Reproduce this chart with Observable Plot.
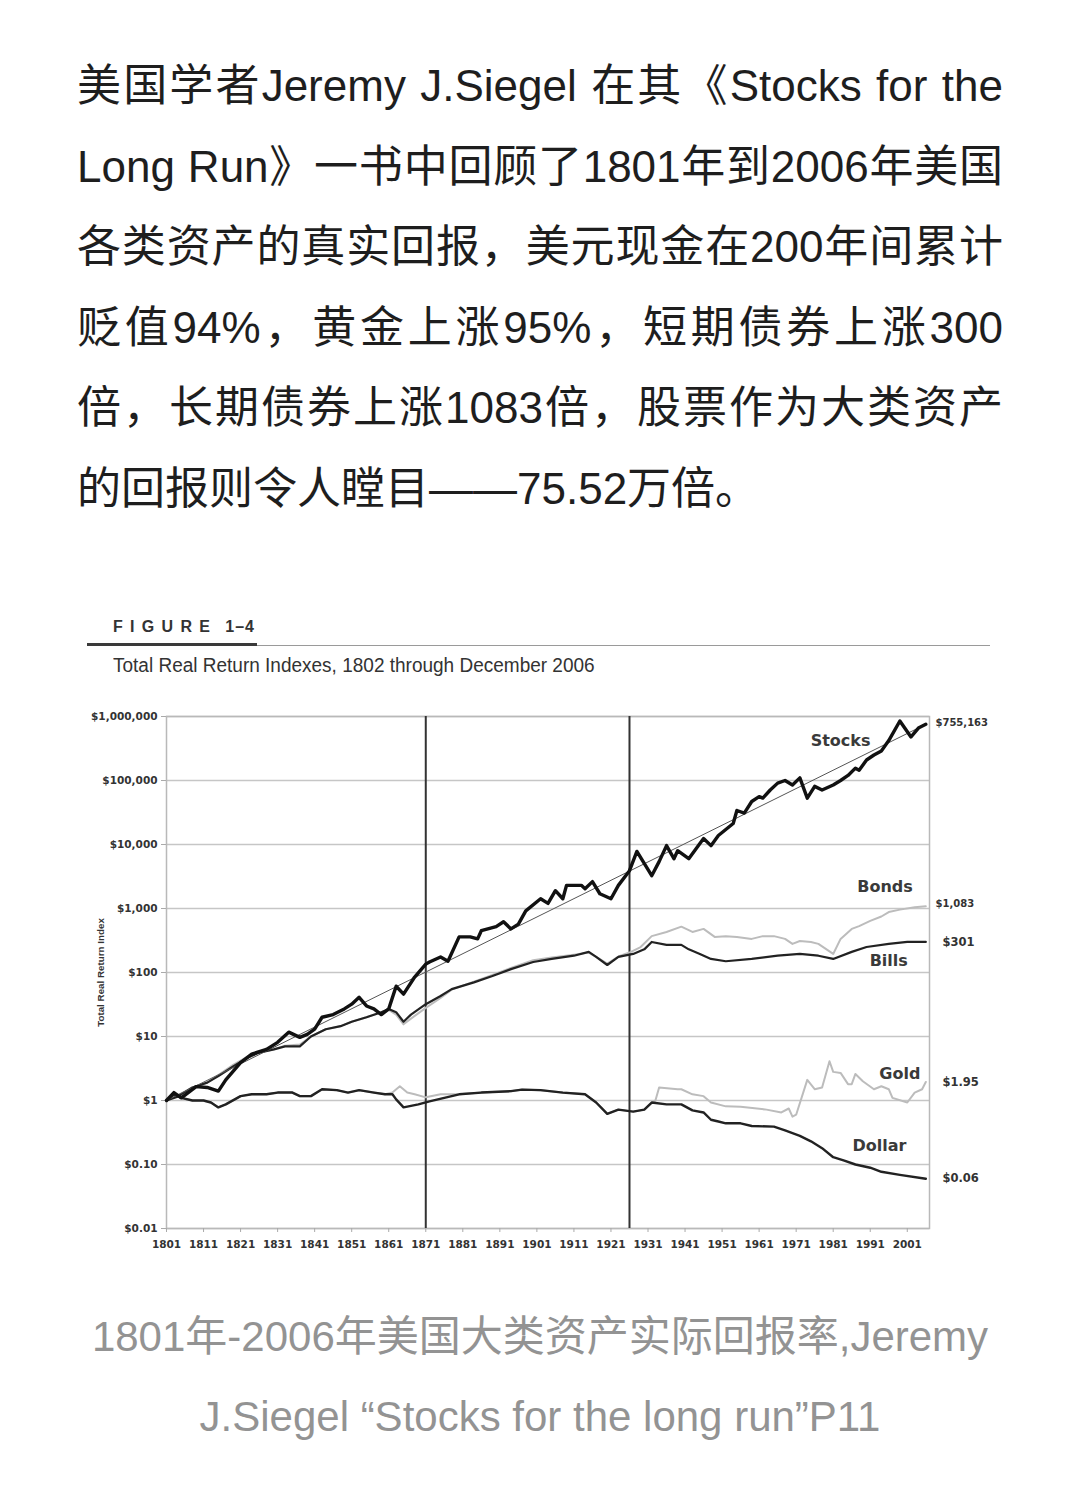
<!DOCTYPE html>
<html>
<head>
<meta charset="utf-8">
<script src="https://cdn.jsdelivr.net/npm/d3@7"></script>
<script src="https://cdn.jsdelivr.net/npm/@observablehq/plot@0.6"></script>
<style>
  html, body { margin: 0; padding: 0; background: #fff; }
  body { width: 1080px; height: 1498px; position: relative; overflow: hidden; }
  #para { position: absolute; left: 77px; top: 46px; width: 926px; font-family: "Liberation Sans", "Noto Sans CJK SC", sans-serif; font-size: 44px; line-height: 80.5px; color: #1e1e1e; }
  #para .jl { text-align: justify; text-align-last: justify; }
  #para .last { text-align: left; }
  #fig { position: absolute; left: 113px; top: 617px; font-family: "Liberation Sans", Arial, sans-serif; font-weight: bold; font-size: 16px; line-height: 20px; color: #333; white-space: nowrap; }
  #fig .w { letter-spacing: 7.3px; }
  #fig .n { letter-spacing: 1px; margin-left: 8px; }
  #thick { position: absolute; left: 87px; top: 643px; width: 170px; height: 2.5px; background: #3a3a3a; }
  #thin { position: absolute; left: 257px; top: 644.5px; width: 733px; height: 1px; background: #9a9a9a; }
  #sub { position: absolute; left: 113px; top: 652px; font-family: "Liberation Sans", Arial, sans-serif; font-size: 20px; line-height: 26px; color: #333; white-space: nowrap; transform-origin: 0 50%; transform: scaleX(0.95); }
  #chart { position: absolute; left: 0; top: 690px; }
  #cap { position: absolute; left: 0; top: 1297px; width: 1080px; text-align: center; font-family: "Liberation Sans", "Noto Sans CJK SC", sans-serif; font-size: 42px; line-height: 80px; color: #939393; }
</style>
</head>
<body>
<div id="para">
  <div class="jl">美国学者Jeremy J.Siegel 在其《Stocks for the</div>
  <div class="jl">Long Run》一书中回顾了1801年到2006年美国</div>
  <div class="jl">各类资产的真实回报，美元现金在200年间累计</div>
  <div class="jl">贬值94%，黄金上涨95%，短期债券上涨300</div>
  <div class="jl">倍，长期债券上涨1083倍，股票作为大类资产</div>
  <div class="last">的回报则令人瞠目——75.52万倍。</div>
</div>
<div id="fig"><span class="w">FIGURE</span><span class="n">1–4</span></div>
<div id="thick"></div>
<div id="thin"></div>
<div id="sub">Total Real Return Indexes, 1802 through December 2006</div>
<div id="chart"></div>
<div id="cap">
  <div>1801年-2006年美国大类资产实际回报率,Jeremy</div>
  <div>J.Siegel “Stocks for the long run”P11</div>
</div>
<script>
// ---- data ----
const xTicks = [1801, 1811, 1821, 1831, 1841, 1851, 1861, 1871, 1881, 1891, 1901, 1911, 1921, 1931, 1941, 1951, 1961, 1971, 1981, 1991, 2001];
const yTicks = [0.01, 0.1, 1, 10, 100, 1000, 10000, 100000, 1000000];
const yTickLabels = ["$0.01", "$0.10", "$1", "$10", "$100", "$1,000", "$10,000", "$100,000", "$1,000,000"];
const periodBreaks = [1871, 1926];

const stockYears = [1801,1803,1805,1809,1812,1815,1817,1821,1824,1828,1831,1834,1837,1839,1841,1843,1846,1849,1851,1853,1855,1857,1859,1861,1863,1865,1868,1871,1872,1875,1877,1880,1883,1885,1886,1890,1892,1894,1896,1898,1902,1904,1906,1908,1909,1913,1914,1916,1918,1921,1923,1926,1928,1932,1934,1936,1938,1939,1942,1946,1948,1950,1954,1955,1957,1959,1961,1962,1964,1966,1968,1970,1972,1974,1976,1978,1981,1983,1985,1987,1988,1990,1992,1994,1996,1999,2002,2004,2006];
const stockValues = [1,1.33,1.1,1.65,1.6,1.4,2.1,3.9,5.3,6.3,8.1,11.7,9.7,10.8,13,20,22,27,32,41,30,27,22,27,61,46,85,135,146,175,150,360,360,335,450,520,620,480,570,920,1420,1200,1900,1420,2300,2300,2040,2630,1700,1420,2300,3900,7800,3250,5400,9600,6000,8000,6000,12400,9600,13800,21300,34000,31000,47000,56000,53000,71000,91000,100000,85000,110000,53000,81000,71000,85000,100000,120000,156000,145000,209000,250000,290000,420000,850000,480000,660000,755163];

const trendYears = [1801, 2006];
const trendValues = [1, 755163];

const bondYears = [1801,1804,1808,1812,1815,1819,1823,1826,1830,1833,1837,1840,1844,1848,1851,1855,1859,1861,1863,1865,1867,1871,1875,1878,1884,1889,1894,1900,1905,1911,1915,1917,1920,1923,1926,1929,1932,1936,1940,1943,1946,1949,1952,1955,1959,1962,1965,1968,1970,1972,1975,1977,1981,1983,1986,1988,1991,1994,1996,1999,2003,2006];
const bondValues = [1,1.2,1.6,1.9,2.5,3.6,4.9,5.6,6.3,7.2,7.5,10,13,14.5,17,20,24,26,22,15.5,19,28,40,54,72,92,118,155,172,190,205,175,138,178,205,250,370,430,520,430,480,360,370,360,335,370,370,335,280,310,300,280,195,335,480,530,640,750,880,960,1050,1083];

const billYears = [1801,1804,1808,1812,1815,1819,1823,1826,1830,1833,1837,1840,1844,1848,1851,1855,1859,1861,1863,1865,1867,1871,1875,1878,1884,1889,1894,1900,1905,1911,1915,1917,1920,1923,1927,1930,1932,1936,1940,1942,1945,1948,1952,1959,1966,1972,1977,1981,1986,1990,1996,2001,2006];
const billValues = [1,1.15,1.6,1.9,2.4,3.4,4.7,5.6,6.3,7,7,10,13,14.5,17,20,24,27,24,17,22,32,43,55,70,88,113,146,163,183,210,175,131,175,195,230,300,270,270,230,195,163,150,163,183,195,183,163,210,250,280,300,301];

const goldYears = [1801,1803,1805,1808,1811,1813,1815,1817,1821,1824,1828,1831,1835,1837,1840,1843,1847,1850,1853,1857,1860,1862,1864,1866,1868,1871,1875,1879,1880,1886,1894,1897,1902,1908,1914,1917,1920,1923,1927,1930,1932,1933,1934,1939,1940,1943,1946,1948,1952,1956,1963,1967,1969,1970,1971,1974,1976,1978,1980,1981,1983,1985,1986,1987,1989,1992,1994,1996,1997,2001,2003,2005,2006];
const goldValues = [1,1.25,1.1,1.0,1.0,0.93,0.78,0.87,1.17,1.25,1.25,1.33,1.33,1.17,1.17,1.5,1.45,1.33,1.45,1.33,1.25,1.33,1.67,1.33,1.25,1.12,1.25,1.25,1.25,1.33,1.4,1.48,1.45,1.33,1.25,0.93,0.62,0.72,0.67,0.72,0.93,1.0,1.6,1.5,1.5,1.25,1.17,0.93,0.81,0.8,0.72,0.65,0.75,0.56,0.6,2.1,1.5,1.6,4.1,2.8,2.7,1.8,1.8,2.6,2.0,1.5,1.67,1.5,1.1,0.93,1.33,1.5,1.95];

const dollarYears = [1801,1803,1805,1808,1811,1813,1815,1817,1821,1824,1828,1831,1835,1837,1840,1843,1847,1850,1853,1857,1860,1862,1863,1865,1869,1872,1876,1880,1886,1894,1897,1902,1908,1914,1917,1920,1923,1927,1930,1932,1936,1940,1943,1946,1948,1950,1952,1956,1959,1965,1968,1972,1975,1978,1981,1984,1987,1991,1994,1999,2006];
const dollarValues = [1,1.25,1.1,1.0,1.0,0.93,0.78,0.87,1.17,1.25,1.25,1.33,1.33,1.17,1.17,1.5,1.45,1.33,1.45,1.33,1.25,1.25,1.04,0.78,0.87,0.97,1.1,1.25,1.33,1.4,1.48,1.45,1.33,1.25,0.93,0.62,0.72,0.67,0.72,0.93,0.87,0.87,0.7,0.65,0.5,0.47,0.44,0.44,0.4,0.39,0.34,0.28,0.23,0.18,0.13,0.115,0.10,0.089,0.077,0.069,0.06];

const seriesNames = ["Stocks", "Bonds", "Bills", "Gold", "Dollar"];
const seriesLabelYears = [1983, 1995, 1996, 1999, 1993.5];
const seriesLabelValues = [413000, 2190, 151, 2.65, 0.197];

const endLabelsTop = ["$755,163", "$1,083"];
const endValuesTop = [755163, 1083];
const endLabelsLow = ["$301", "$1.95", "$0.06"];
const endValuesLow = [301, 1.95, 0.06];

// ---- build tables ----
const zip = (xs, ys) => xs.map((x, i) => ({year: x, value: ys[i]}));
const stocks = zip(stockYears, stockValues);
const trend = zip(trendYears, trendValues);
const bonds = zip(bondYears, bondValues);
const bills = zip(billYears, billValues);
const gold = zip(goldYears, goldValues);
const dollar = zip(dollarYears, dollarValues);
const seriesLabels = seriesNames.map((n, i) => ({name: n, year: seriesLabelYears[i], value: seriesLabelValues[i]}));
const topEnd = endLabelsTop.map((t, i) => ({text: t, value: endValuesTop[i]}));
const lowEnd = endLabelsLow.map((t, i) => ({text: t, value: endValuesLow[i]}));
const xMax = 2007;
const yLabel = d => {
  const i = yTicks.findIndex(t => Math.abs(Math.log10(t) - Math.log10(d)) < 1e-6);
  return i >= 0 ? yTickLabels[i] : "";
};

const chart = Plot.plot({
  width: 1080,
  height: 578,
  marginLeft: 166,
  marginRight: 151,
  marginTop: 26,
  marginBottom: 40,
  x: {domain: [1801, xMax]},
  y: {type: "log", domain: [0.01, 1000000]},
  style: {fontFamily: "DejaVu Sans", fontSize: "10.5px", fontWeight: "bold", color: "#333", background: "white", overflow: "visible"},
  marks: [
    Plot.gridY(yTicks, {stroke: "#c6c6c6", strokeOpacity: 1, strokeWidth: 1.5}),
    Plot.frame({stroke: "#b9b9b9", strokeWidth: 1.5}),
    Plot.axisY({ticks: yTicks, tickFormat: yLabel, tickSize: 5, tickPadding: 4, stroke: "#aaa", fill: "#333", label: null}),
    Plot.axisX({ticks: xTicks, tickFormat: d => String(d), tickSize: 4, tickPadding: 8, stroke: "#aaa", fill: "#333", label: null}),
    Plot.text(["Total Real Return Index"], {frameAnchor: "left", textAnchor: "middle", dx: -66, rotate: -90, fontFamily: "Liberation Sans", fontSize: 9.8, fontWeight: "bold", fill: "#333"}),
    Plot.ruleX(periodBreaks, {stroke: "#333", strokeWidth: 2}),
    Plot.line(bonds, {x: "year", y: "value", stroke: "#bcbcbc", strokeWidth: 2}),
    Plot.line(gold, {x: "year", y: "value", stroke: "#bcbcbc", strokeWidth: 2}),
    Plot.line(bills, {x: "year", y: "value", stroke: "#222", strokeWidth: 2.2}),
    Plot.line(dollar, {x: "year", y: "value", stroke: "#222", strokeWidth: 2.4}),
    Plot.line(trend, {x: "year", y: "value", stroke: "#555", strokeWidth: 1}),
    Plot.line(stocks, {x: "year", y: "value", stroke: "#111", strokeWidth: 3.4}),
    Plot.text(seriesLabels, {x: "year", y: "value", text: "name", fontFamily: "DejaVu Sans", fontSize: 16, fontWeight: "bold", fill: "#3a3a3a"}),
    Plot.text(topEnd, {x: () => xMax, y: "value", text: "text", textAnchor: "start", dx: 6, dy: -2, fontSize: 10, fill: "#333"}),
    Plot.text(lowEnd, {x: () => xMax, y: "value", text: "text", textAnchor: "start", dx: 13, fontSize: 11.5, fill: "#333"})
  ]
});
document.getElementById("chart").appendChild(chart);
</script>
</body>
</html>
